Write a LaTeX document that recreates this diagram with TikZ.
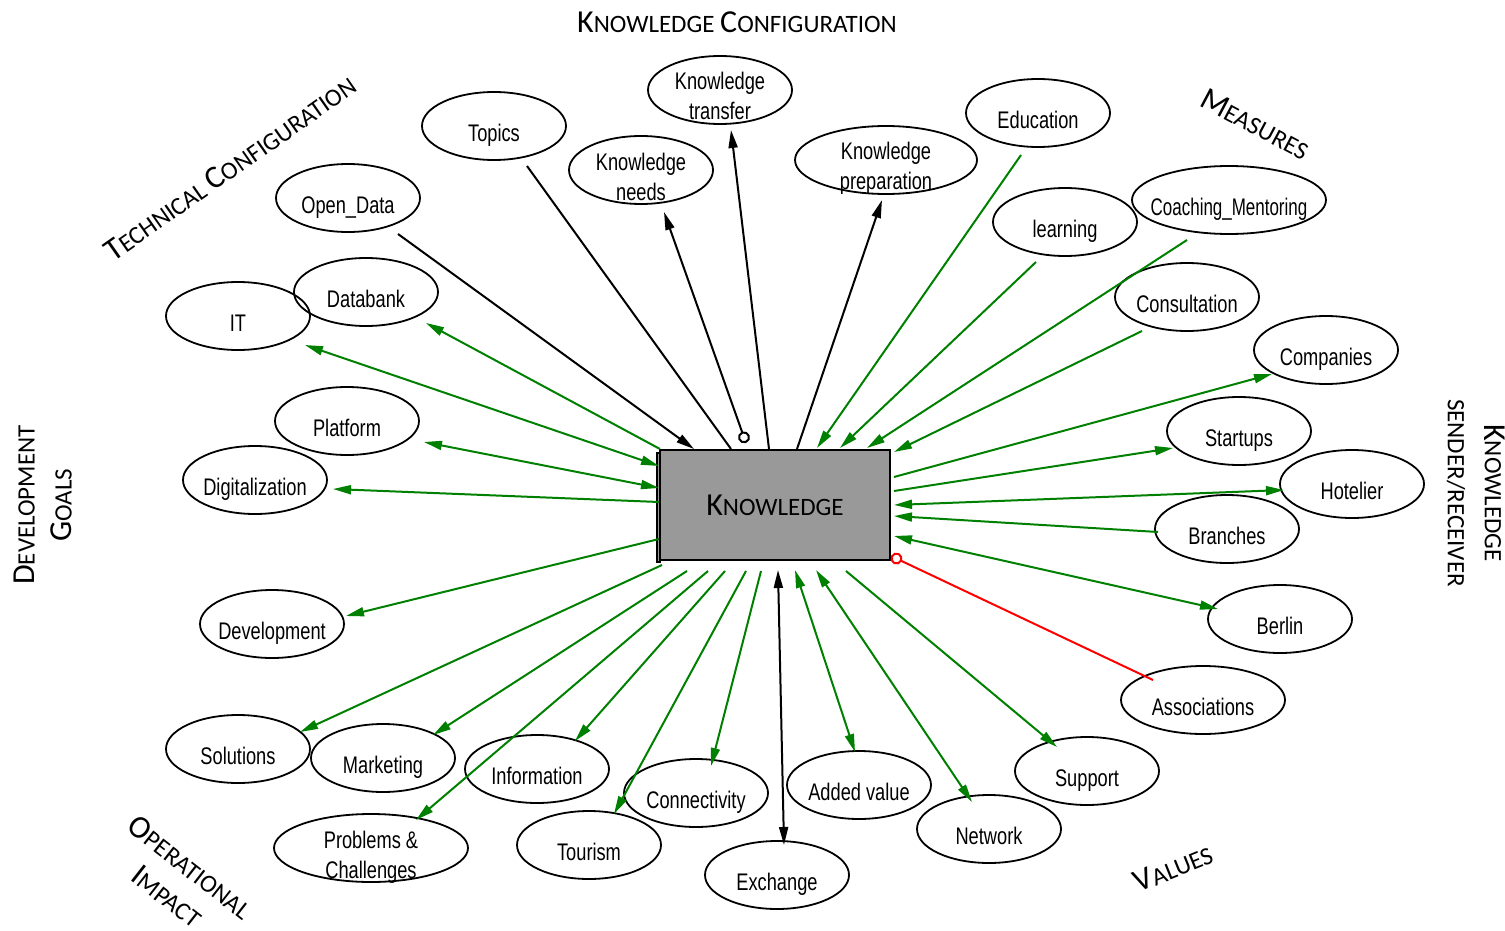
\documentclass[tikz,border=0pt]{standalone}
\usepackage{fontspec}
\usetikzlibrary{arrows.meta,shapes.geometric,calc}
\newfontfamily\nodefont[FakeStretch=0.76]{Liberation Sans}
\newfontfamily\catfont{Carlito}
\definecolor{lgreen}{RGB}{0,128,0}
\definecolor{boxgray}{RGB}{153,153,153}
% capital letter of a small-caps heading
\newcommand\bg[1]{{\fontsize{16}{18.5}\selectfont #1}}
% one- and two-line ellipse labels: zero-size boxes, set a little below the centre
\newcommand\oneln[1]{\raisebox{-7.8pt}[0pt][0pt]{\makebox[0pt]{#1}}}
\newcommand\twoln[2]{\raisebox{-15pt}[0pt][0pt]{\makebox[0pt]{\begin{tabular}[b]{@{}c@{}}#1\\#2\end{tabular}}}}
\tikzset{
  ell/.style={ellipse, draw, line width=0.9pt, minimum width=72pt, minimum height=34pt,
              inner sep=0pt, font=\nodefont\fontsize{12}{15}\selectfont},
  cat/.style={inner sep=0pt, align=center, font=\catfont\fontsize{12.5}{18.5}\selectfont},
  bl/.style={line width=1pt, black},
  gl/.style={line width=1pt, lgreen},
  >={Triangle[length=9pt,width=4.5pt]},
  ringtip/.tip={Circle[open,length=6pt,width=6pt]},
}
\begin{document}
\begin{tikzpicture}[x=0.5pt,y=-0.5pt]
\path[use as bounding box] (0,0) rectangle (1505,931);

% central concept
\draw[line width=0.6pt, fill=boxgray] (657,453) rectangle (660,562);
\node[draw, line width=1pt, fill=boxgray, minimum width=115pt, minimum height=55pt, inner sep=0pt,
      font=\catfont\fontsize{12.5}{15}\selectfont] (know) at (775,505) {\bg{K}NOWLEDGE};

% concepts
\node[ell] (topics) at (494,126) {\oneln{Topics}};
\node[ell] (ktrans) at (720,90) {\twoln{Knowledge}{transfer}};
\node[ell] (kneeds) at (641,170) {\twoln{Knowledge}{needs}};
\node[ell, minimum width=91pt] (kprep) at (886,160) {\twoln{Knowledge}{preparation}};
\node[ell] (edu) at (1038,113) {\oneln{Education}};
\node[ell] (odata) at (348,198) {\oneln{Open\_Data}};
\node[ell] (learn) at (1065,222) {\oneln{learning}};
\node[ell, minimum width=97pt] (coach) at (1229,200) {\oneln{\scalebox{0.93}[1]{Coaching\_Mentoring}}};
\node[ell] (dbank) at (366,292) {\oneln{Databank}};
\node[ell] (it) at (238,316) {\oneln{IT}};
\node[ell] (consult) at (1187,297) {\oneln{Consultation}};
\node[ell] (comp) at (1326,350) {\oneln{Companies}};
\node[ell] (platf) at (347,421) {\oneln{Platform}};
\node[ell] (startup) at (1239,431) {\oneln{Startups}};
\node[ell] (digit) at (255,480) {\oneln{Digitalization}};
\node[ell] (hotel) at (1352,484) {\oneln{Hotelier}};
\node[ell] (branch) at (1227,529) {\oneln{Branches}};
\node[ell] (berlin) at (1280,619) {\oneln{Berlin}};
\node[ell] (devel) at (272,624) {\oneln{Development}};
\node[ell, minimum width=82pt] (assoc) at (1203,700) {\oneln{Associations}};
\node[ell] (solut) at (238,749) {\oneln{Solutions}};
\node[ell] (market) at (383,758) {\oneln{Marketing}};
\node[ell] (inform) at (537,769) {\oneln{Information}};
\node[ell] (support) at (1087,771) {\oneln{Support}};
\node[ell] (connect) at (696,793) {\oneln{Connectivity}};
\node[ell] (added) at (859,785) {\oneln{Added value}};
\node[ell] (network) at (989,829) {\oneln{Network}};
\node[ell, minimum width=97pt] (probl) at (371,848) {\twoln{Problems \&}{Challenges}};
\node[ell] (tourism) at (589,845) {\oneln{Tourism}};
\node[ell] (exch) at (777,875) {\oneln{Exchange}};

% knowledge configuration
\draw[bl,->] ($(odata)+(50,36)$) -- ($(know.north west)+(35,0)$);
\draw[bl] ($(topics)+(33,40)$) -- ($(know.north west)+(72,0)$);
\draw[bl,{ringtip}->] ($(know.north west)+(87,-6)$) -- ($(kneeds)+(23,42)$);
\draw[bl,->] ($(know.north west)+(110,0)$) -- ($(ktrans)+(11,40)$);
\draw[bl,->] ($(know.north west)+(138,0)$) -- ($(kprep)+(-4,40)$);
\draw[bl,<->] ($(know.south west)+(119,9)$) -- ($(exch)+(7,-30)$);

% measures
\draw[gl,->] ($(edu)+(-17,42)$) -- ($(know.north west)+(158,-1)$);
\draw[gl,->] ($(learn)+(-29,40)$) -- ($(know.north west)+(181,-1)$);
\draw[gl,->] ($(coach)+(-42,40)$) -- ($(know.north west)+(208,-1)$);
\draw[gl,->] ($(consult)+(-45,34)$) -- ($(know.north east)+(3,3)$);

% knowledge sender/receiver
\draw[gl,->] ($(know.north east)+(3,28)$) -- ($(comp)+(-54,24)$);
\draw[gl,->] ($(know.north east)+(3,42)$) -- ($(startup)+(-66,17)$);
\draw[gl,<->] ($(know.north east)+(3,56)$) -- ($(hotel)+(-68,6)$);
\draw[gl,->] ($(branch)+(-69,3)$) -- ($(know.north east)+(3,67)$);
\draw[gl,<->] ($(know.north east)+(3,87)$) -- ($(berlin)+(-62,-10)$);
\draw[line width=1pt, red, {ringtip}-] ($(know.south east)+(0,-5)$) -- ($(assoc)+(-50,-20)$);

% technical configuration and development goals
\draw[gl,->] ($(know.north west)+(1,0)$) -- ($(dbank)+(60,31)$);
\draw[gl,<->] ($(know.north west)+(0,17)$) -- ($(it)+(67,29)$);
\draw[gl,<->] ($(know.north west)+(0,39)$) -- ($(platf)+(77,21)$);
\draw[gl,->] ($(know.north west)+(0,53)$) -- ($(digit)+(78,9)$);
\draw[gl,->] ($(know.north west)+(0,90)$) -- ($(devel)+(74,-8)$);

% operational impact and values
\draw[gl,->] ($(know.south west)+(3,4)$) -- ($(solut)+(62,-17)$);
\draw[gl,->] ($(know.south west)+(28,10)$) -- ($(market)+(50,-23)$);
\draw[gl,->] ($(know.south west)+(49,10)$) -- ($(probl)+(45,-28)$);
\draw[gl,->] ($(know.south west)+(66,10)$) -- ($(inform)+(38,-28)$);
\draw[gl,->] ($(know.south west)+(87,10)$) -- ($(tourism)+(25,-31)$);
\draw[gl,->] ($(know.south west)+(102,10)$) -- ($(connect)+(15,-27)$);
\draw[gl,<->] ($(know.south west)+(136,9)$) -- ($(added)+(-4,-33)$);
\draw[gl,<->] ($(know.south west)+(157,9)$) -- ($(network)+(-17,-27)$);
\draw[gl,->] ($(know.south west)+(187,10)$) -- ($(support)+(-30,-24)$);

% group headings
\node[cat] (hkconf) at (737,22) {\bg{K}NOWLEDGE \bg{C}ONFIGURATION};
\node[cat, rotate=35] (htech) at (230,168) {\bg{T}ECHNICAL \bg{C}ONFIGURATION};
\node[cat, rotate=-28] (hmeas) at (1255,124) {\bg{M}EASURES};
\node[cat, rotate=90] (hdev) at (43,505) {\bg{D}EVELOPMENT\\\bg{G}OALS};
\node[cat, rotate=-90] (hsend) at (1476,493) {\bg{K}NOWLEDGE\\SENDER/RECEIVER};
\node[cat, rotate=-38] (hop) at (179,882) {\bg{O}PERATIONAL\\\bg{I}MPACT};
\node[cat, rotate=22] (hval) at (1173,868) {\bg{V}ALUES};
\end{tikzpicture}
\end{document}
